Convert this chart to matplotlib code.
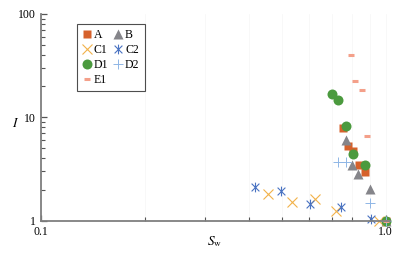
import matplotlib.pyplot as plt
from matplotlib.path import Path
from matplotlib.ticker import LogLocator, FixedLocator, NullFormatter, FixedFormatter

plt.rcParams['font.family'] = ['Liberation Serif', 'DejaVu Serif']
plt.rcParams['mathtext.fontset'] = 'stix'

# --- data (S_w, I) ---
a_sw = [0.750, 0.776, 0.802, 0.835, 0.869, 1.0]
a_i = [7.96, 5.32, 4.76, 3.48, 2.97, 1.0]

b_sw = [0.765, 0.796, 0.829, 0.898, 1.0]
b_i = [6.09, 3.48, 2.84, 2.03, 1.0]

c1_sw = [0.457, 0.533, 0.622, 0.716, 0.954]
c1_i = [1.82, 1.51, 1.63, 1.24, 1.0]

c2_sw = [0.419, 0.497, 0.605, 0.740, 0.909]
c2_i = [2.11, 1.96, 1.45, 1.35, 1.03]

d1_sw = [0.697, 0.725, 0.765, 0.802, 0.869, 1.0]
d1_i = [16.7, 14.6, 8.32, 4.45, 3.48, 1.0]

d2_sw = [0.725, 0.765, 0.898, 1.0]
d2_i = [3.66, 3.66, 1.48, 1.0]

e1_sw = [0.791, 0.812, 0.852, 0.881, 1.0]
e1_i = [39.9, 22.3, 18.2, 6.65, 1.0]

# asterisk: an X with a vertical bar
star = Path([(-1, -1), (1, 1), (-1, 1), (1, -1), (0, -1.25), (0, 1.25)],
            [Path.MOVETO, Path.LINETO, Path.MOVETO, Path.LINETO, Path.MOVETO, Path.LINETO])

fig = plt.figure(figsize=(4.01, 2.54), dpi=100)
ax = fig.add_axes([0.102, 0.131, 0.871, 0.814])

hA, = ax.plot(a_sw, a_i, ls='none', marker='s', ms=6.3, color='#d6612b', mec='none', label='A', clip_on=False)
hB, = ax.plot(b_sw, b_i, ls='none', marker='^', ms=7, color='#85858a', mec='none', label='B', clip_on=False)
hC1, = ax.plot(c1_sw, c1_i, ls='none', marker='x', ms=6.5, mew=0.8, color='#f2b24a', label='C1', clip_on=False)
hC2, = ax.plot(c2_sw, c2_i, ls='none', marker=star, ms=7, mew=0.8, color='#4a73c2', mfc='none', label='C2', clip_on=False)
hD1, = ax.plot(d1_sw, d1_i, ls='none', marker='o', ms=7.2, color='#4b9a3e', mec='none', label='D1', clip_on=False)
hD2, = ax.plot(d2_sw, d2_i, ls='none', marker='+', ms=7.5, mew=0.7, color='#8fb6e6', label='D2', clip_on=False)
hE1, = ax.plot(e1_sw, e1_i, ls='none', marker='_', ms=4.5, mew=2.2, color='#f4a08a', label='E1', clip_on=False)

ax.set_xscale('log')
ax.set_yscale('log')
ax.set_xlim(0.1, 1.03)
ax.set_ylim(1, 100)

ax.xaxis.set_major_locator(FixedLocator([0.1, 1.0]))
ax.xaxis.set_major_formatter(FixedFormatter(['0.1', '1.0']))
ax.xaxis.set_minor_locator(LogLocator(base=10, subs=range(2, 10)))
ax.xaxis.set_minor_formatter(NullFormatter())
ax.yaxis.set_major_locator(FixedLocator([1, 10, 100]))
ax.yaxis.set_major_formatter(FixedFormatter(['1', '10', '100']))
ax.yaxis.set_minor_locator(LogLocator(base=10, subs=range(2, 10)))
ax.yaxis.set_minor_formatter(NullFormatter())

for s in ['top', 'right']:
    ax.spines[s].set_visible(False)
for s in ['left', 'bottom']:
    ax.spines[s].set_color('#7f7f7f')
    ax.spines[s].set_linewidth(1.3)

ax.tick_params(which='both', direction='in', color='#555555', labelsize=8.5)
ax.tick_params(axis='x', pad=4)
ax.tick_params(axis='y', pad=4)
ax.tick_params(which='major', length=4, width=0.9)
ax.tick_params(which='minor', length=3, width=0.8)
ax.grid(True, which='both', axis='x', color='#f5f5f5', lw=0.5)

ax.set_xlabel(r'$S_\mathrm{w}$', fontsize=9.5)
ax.xaxis.set_label_coords(0.497, -0.065)
ax.set_ylabel(r'$I$', fontsize=9.5, rotation=0, va='center')
ax.yaxis.set_label_coords(-0.072, 0.47)

# row-wise order: A B / C1 C2 / D1 D2 / E1
handles = [hA, hC1, hD1, hE1, hB, hC2, hD2]
leg = ax.legend(handles=handles, labels=[h.get_label() for h in handles],
                loc='upper left', bbox_to_anchor=(0.103, 0.952), borderaxespad=0,
                ncol=2, fontsize=8.5, frameon=True, fancybox=False, edgecolor='#222222',
                handlelength=0.8, handletextpad=0.2, columnspacing=0.4,
                labelspacing=0.25, borderpad=0.45)
leg.get_frame().set_linewidth(0.8)

fig.savefig('out.png', dpi=100)
